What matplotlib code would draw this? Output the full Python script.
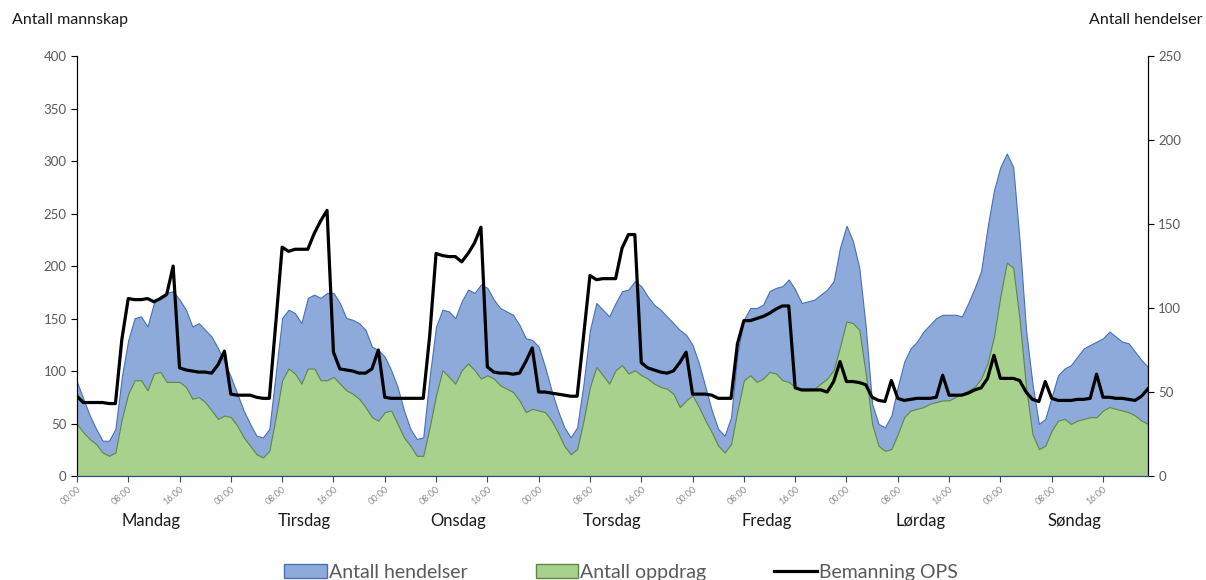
import numpy as np
import matplotlib
matplotlib.use("Agg")
import matplotlib.pyplot as plt
from matplotlib.patches import Patch
from matplotlib.lines import Line2D
from matplotlib.transforms import blended_transform_factory

# Ukedager og tidspunkt
dager = ["Mandag", "Tirsdag", "Onsdag", "Torsdag", "Fredag", "Lørdag", "Søndag"]
tick_labels = ["00:00", "08:00", "16:00"]

# Antall hendelser per time (høyre akse)
hendelser_man = [56, 46, 36, 28, 21, 21, 28, 59, 81, 94, 95, 89, 103, 107, 109, 110, 105, 99, 89, 91, 87, 83, 76, 68]
hendelser_tir = [59, 49, 39, 31, 24, 23, 28, 61, 94, 99, 97, 91, 106, 108, 106, 109, 109, 103, 94, 93, 91, 87, 77, 75]
hendelser_ons = [71, 63, 53, 39, 28, 22, 23, 59, 89, 99, 98, 94, 104, 111, 109, 114, 112, 105, 100, 98, 96, 90, 82, 81]
hendelser_tor = [77, 65, 51, 39, 29, 23, 29, 55, 87, 103, 99, 95, 103, 110, 111, 116, 113, 107, 102, 99, 95, 91, 87, 84]
hendelser_fre = [78, 67, 53, 39, 28, 24, 35, 73, 93, 100, 100, 102, 110, 112, 113, 117, 111, 103, 104, 105, 108, 111, 116, 136]
hendelser_lor = [149, 140, 124, 89, 43, 31, 29, 36, 53, 68, 76, 80, 86, 90, 94, 96, 96, 96, 95, 103, 112, 122, 148, 170]
hendelser_son = [184, 192, 184, 140, 87, 55, 31, 34, 47, 60, 64, 66, 71, 76, 78, 80, 82, 86, 83, 80, 79, 74, 69, 65]

# Antall oppdrag per time (høyre akse)
oppdrag_man = [31, 26, 22, 19, 14, 12, 14, 34, 49, 57, 57, 51, 61, 62, 56, 56, 56, 53, 46, 47, 44, 39, 34, 36]
oppdrag_tir = [35, 30, 23, 18, 13, 11, 15, 35, 57, 64, 61, 55, 64, 64, 57, 57, 59, 55, 51, 49, 46, 41, 35, 33]
oppdrag_ons = [38, 39, 31, 23, 18, 12, 12, 29, 48, 63, 59, 55, 63, 67, 63, 58, 60, 58, 54, 52, 50, 45, 38, 40]
oppdrag_tor = [39, 38, 33, 26, 18, 13, 16, 33, 53, 65, 60, 55, 63, 66, 61, 63, 60, 58, 55, 53, 52, 49, 41, 45]
oppdrag_fre = [48, 41, 33, 26, 18, 14, 19, 39, 57, 60, 56, 58, 62, 61, 57, 56, 53, 51, 51, 52, 55, 58, 63, 77]
oppdrag_lor = [92, 91, 87, 61, 31, 18, 15, 16, 25, 35, 39, 40, 41, 43, 44, 45, 45, 47, 49, 51, 53, 58, 67, 83]
oppdrag_son = [107, 127, 124, 93, 53, 25, 16, 18, 27, 33, 34, 31, 33, 34, 35, 35, 39, 41, 40, 39, 38, 36, 33, 31]

# Bemanning OPS per time (venstre akse)
bemanning_man = [76, 70, 70, 70, 70, 69, 69, 130, 169, 168, 168, 169, 166, 169, 173, 200, 103, 101, 100, 99, 99, 98, 106, 119]
bemanning_tir = [78, 77, 77, 77, 75, 74, 74, 145, 218, 214, 216, 216, 216, 231, 243, 253, 118, 102, 101, 100, 98, 98, 102, 120]
bemanning_ons = [75, 74, 74, 74, 74, 74, 74, 133, 212, 210, 209, 209, 204, 212, 222, 237, 104, 99, 98, 98, 97, 98, 109, 122]
bemanning_tor = [80, 80, 79, 78, 77, 76, 76, 133, 191, 187, 188, 188, 188, 217, 230, 230, 108, 103, 101, 99, 98, 100, 108, 118]
bemanning_fre = [78, 78, 78, 77, 74, 74, 74, 126, 148, 148, 150, 152, 155, 159, 162, 162, 84, 82, 82, 82, 82, 80, 90, 109]
bemanning_lor = [90, 90, 89, 87, 75, 72, 71, 91, 74, 72, 73, 74, 74, 74, 75, 96, 77, 77, 77, 79, 82, 84, 93, 115]
bemanning_son = [93, 93, 93, 91, 80, 73, 71, 90, 74, 72, 72, 72, 73, 73, 74, 97, 75, 75, 74, 74, 73, 72, 76, 83]

hendelser = np.array(hendelser_man + hendelser_tir + hendelser_ons + hendelser_tor
                     + hendelser_fre + hendelser_lor + hendelser_son)
oppdrag = np.array(oppdrag_man + oppdrag_tir + oppdrag_ons + oppdrag_tor
                   + oppdrag_fre + oppdrag_lor + oppdrag_son)
bemanning = np.array(bemanning_man + bemanning_tir + bemanning_ons + bemanning_tor
                     + bemanning_fre + bemanning_lor + bemanning_son)
x = np.arange(len(hendelser))

plt.rcParams["font.family"] = ["Lato", "DejaVu Sans"]

fig = plt.figure(figsize=(12.06, 5.8), dpi=100)
ax = fig.add_axes([0.0638, 0.1793, 0.888, 0.724])
ax2 = ax.twinx()
ax.set_zorder(ax2.get_zorder() + 1)
ax.patch.set_visible(False)

# Arealer på høyre akse
ax2.fill_between(x, hendelser, color="#8eaadb", edgecolor="#4a6fb5", linewidth=0.8)
ax2.fill_between(x, oppdrag, color="#a9d18e", edgecolor="#5f8548", linewidth=0.8)
# Bemanning på venstre akse
ax.plot(x, bemanning, color="black", linewidth=2.3)

ax.set_xlim(0, len(x) - 1)
ax.set_ylim(0, 400)
ax2.set_ylim(0, 250)
ax.set_yticks(range(0, 401, 50))
ax2.set_yticks(range(0, 251, 50))

ticks = np.arange(0, len(x), 8)
ax.set_xticks(ticks)
ax.set_xticklabels([tick_labels[i % 3] for i in range(len(ticks))],
                   rotation=40, ha="right", rotation_mode="anchor",
                   fontsize=6.5, color="#8c8c8c")

for a in (ax, ax2):
    a.spines["top"].set_visible(False)
    a.spines["left"].set_color("black")
    a.spines["right"].set_color("black")
    a.spines["bottom"].set_color("#2f4a80")
ax.tick_params(axis="y", labelsize=9.5, labelcolor="#595959", length=4, color="black")
ax2.tick_params(axis="y", labelsize=9.5, labelcolor="#595959", length=4, color="black")
ax.tick_params(axis="x", length=4, color="#2f4a80", pad=2)

# Dagnavn under aksen
trans = blended_transform_factory(ax.transData, ax.transAxes)
for i, dag in enumerate(dager):
    ax.text(24 * i + 11.5, -0.107, dag, transform=trans, ha="center", va="center",
            fontsize=12, color="#1a1a1a")

fig.text(0.01, 0.965, "Antall mannskap", fontsize=11.5, va="center", ha="left", color="#1a1a1a")
fig.text(0.997, 0.965, "Antall hendelser", fontsize=11.5, va="center", ha="right", color="#1a1a1a")

handles = [Patch(facecolor="#8eaadb", edgecolor="#4a6fb5"),
           Patch(facecolor="#a9d18e", edgecolor="#5f8548"),
           Line2D([0], [0], color="black", linewidth=2.3)]
leg = fig.legend(handles, ["Antall hendelser", "Antall oppdrag", "Bemanning OPS"],
                 loc="center", bbox_to_anchor=(0.515, 0.013), ncol=3, frameon=False,
                 fontsize=14, handlelength=2.2, handletextpad=0.1, columnspacing=3.5)
for t in leg.get_texts():
    t.set_color("#595959")

fig.savefig("out.png", dpi=100)
